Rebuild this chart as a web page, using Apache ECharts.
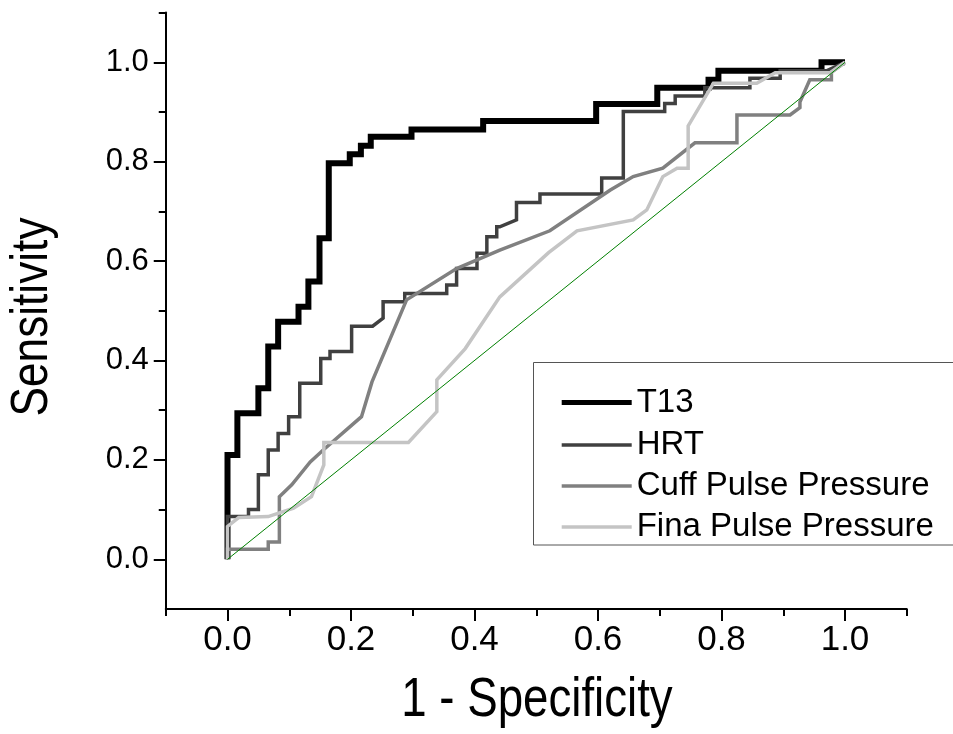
<!DOCTYPE html>
<html>
<head>
<meta charset="utf-8">
<script src="https://cdn.jsdelivr.net/npm/echarts@6/dist/echarts.min.js"></script>
<style>
html,body{margin:0;padding:0;background:#fff;}
#chart{width:953px;height:734px;}
</style>
</head>
<body>
<div id="chart"></div>
<script>
// ---- data ----
const seriesNames = ['T13', 'HRT', 'Cuff Pulse Pressure', 'Fina Pulse Pressure'];

const t13 = [[0,0],[0,0.21],[0.016,0.21],[0.016,0.294],[0.05,0.294],[0.05,0.344],[0.066,0.344],[0.066,0.428],
  [0.082,0.428],[0.082,0.478],[0.115,0.478],[0.115,0.508],[0.131,0.508],[0.131,0.559],[0.149,0.559],[0.149,0.646],
  [0.164,0.646],[0.164,0.797],[0.198,0.797],[0.198,0.815],[0.216,0.815],[0.216,0.832],[0.232,0.832],[0.232,0.85],
  [0.298,0.85],[0.298,0.865],[0.414,0.865],[0.414,0.882],[0.597,0.882],[0.597,0.916],[0.696,0.916],[0.696,0.949],
  [0.779,0.949],[0.779,0.965],[0.795,0.965],[0.795,0.983],[0.962,0.983],[0.962,1.0],[1.0,1.0]];

const hrt = [[0,0],[0,0.086],[0.034,0.086],[0.034,0.1],[0.05,0.1],[0.05,0.17],[0.066,0.17],[0.066,0.22],
  [0.082,0.22],[0.082,0.253],[0.099,0.253],[0.099,0.287],[0.117,0.287],[0.117,0.354],[0.151,0.354],[0.151,0.404],
  [0.166,0.404],[0.166,0.418],[0.201,0.418],[0.201,0.469],[0.235,0.469],[0.252,0.485],[0.252,0.518],[0.287,0.518],
  [0.287,0.535],[0.355,0.535],[0.355,0.552],[0.371,0.552],[0.371,0.585],[0.404,0.585],[0.404,0.616],[0.42,0.616],
  [0.42,0.649],[0.436,0.649],[0.436,0.669],[0.441,0.669],[0.468,0.683],[0.468,0.718],[0.506,0.718],[0.506,0.735],
  [0.606,0.735],[0.606,0.767],[0.641,0.767],[0.641,0.901],[0.708,0.901],[0.708,0.917],[0.725,0.917],[0.725,0.932],
  [0.773,0.932],[0.773,0.949],[0.846,0.949],[0.846,0.968],[0.895,0.968],[0.895,0.983],[0.97,0.983],[1,1]];

const cuff = [[0,0],[0,0.02],[0.066,0.02],[0.066,0.035],[0.084,0.035],[0.084,0.126],[0.104,0.15],[0.134,0.196],
  [0.155,0.22],[0.217,0.287],[0.234,0.357],[0.29,0.522],[0.371,0.585],[0.441,0.622],[0.522,0.661],[0.62,0.743],
  [0.657,0.77],[0.705,0.787],[0.757,0.838],[0.825,0.838],[0.825,0.894],[0.911,0.894],[0.927,0.909],[0.927,0.92],
  [0.943,0.965],[0.978,0.965],[0.978,0.98],[1,1]];

const fina = [[0,0],[0,0.066],[0.018,0.084],[0.066,0.086],[0.107,0.103],[0.136,0.126],[0.156,0.19],[0.156,0.235],
  [0.293,0.235],[0.339,0.297],[0.339,0.361],[0.385,0.424],[0.441,0.528],[0.52,0.617],[0.566,0.661],[0.657,0.683],
  [0.679,0.703],[0.705,0.77],[0.728,0.787],[0.746,0.787],[0.746,0.872],[0.787,0.958],[0.857,0.958],[0.887,0.979],
  [0.976,0.979],[1,1]];

const reference = [[0,0],[1,1]];

const xMajorTicks = [0, 0.2, 0.4, 0.6, 0.8, 1.0];
const xMinorTicks = [-0.1, 0.1, 0.3, 0.5, 0.7, 0.9, 1.1];
const yMajorTicks = [0, 0.2, 0.4, 0.6, 0.8, 1.0];
const yMinorTicks = [0.1, 0.3, 0.5, 0.7, 0.9, 1.1];

const xTitle = '1 - Specificity';
const yTitle = 'Sensitivity';

const seriesData = [t13, hrt, cuff, fina];
const seriesColors = ['#000000', '#404040', '#808080', '#c4c4c4'];
const seriesWidths = [6, 3.5, 3.5, 3.5];

// ---- chart ----
const FONT = 'Liberation Sans, Arial, sans-serif';
const chart = echarts.init(document.getElementById('chart'), null, {renderer: 'canvas'});

const fmt = v => Number(v).toFixed(1);

const baseAxis = {
  type: 'value', min: -0.1, max: 1.1,
  splitLine: {show: false}
};

const legendText = {fontSize: 33, fontFamily: FONT, color: '#000'};

const option = {
  backgroundColor: '#ffffff',
  animation: false,
  grid: {left: 165.75, top: 12.6, right: 46.25, bottom: 125, outerBoundsMode: 'none', containLabel: false},
  xAxis: [
    Object.assign({}, baseAxis, {
      position: 'bottom',
      axisLine: {show: true, onZero: false, lineStyle: {color: '#000', width: 2}},
      axisTick: {show: true, customValues: xMajorTicks, length: 12, lineStyle: {color: '#000', width: 2}},
      axisLabel: {customValues: xMajorTicks, formatter: fmt, fontSize: 35, fontFamily: FONT, color: '#000', margin: 14}
    }),
    Object.assign({}, baseAxis, {
      position: 'bottom',
      axisLine: {show: false, onZero: false},
      axisTick: {show: true, customValues: xMinorTicks, length: 7, lineStyle: {color: '#000', width: 2}},
      axisLabel: {show: false}
    })
  ],
  yAxis: [
    Object.assign({}, baseAxis, {
      position: 'left',
      axisLine: {show: true, onZero: false, lineStyle: {color: '#000', width: 2}},
      axisTick: {show: true, customValues: yMajorTicks, length: 12, lineStyle: {color: '#000', width: 2}},
      axisLabel: {customValues: yMajorTicks, formatter: fmt, fontSize: 31, fontFamily: FONT, color: '#000', margin: 17}
    }),
    Object.assign({}, baseAxis, {
      position: 'left',
      axisLine: {show: false, onZero: false},
      axisTick: {show: true, customValues: yMinorTicks, length: 7, lineStyle: {color: '#000', width: 2}},
      axisLabel: {show: false}
    })
  ],
  legend: [{
    data: [seriesNames[0]],
    orient: 'vertical', left: 561.7, top: 386.1, padding: 0,
    icon: 'rect', itemWidth: 70, itemHeight: 5, itemGap: 8.1,
    textStyle: legendText, selectedMode: false
  }, {
    data: seriesNames.slice(1),
    orient: 'vertical', left: 561.7, top: 428.4, padding: 0,
    icon: 'rect', itemWidth: 70, itemHeight: 3.5, itemGap: 8.1,
    textStyle: legendText, selectedMode: false
  }],
  graphic: [{
    type: 'rect', z: -1,
    shape: {x: 533.5, y: 362.5, width: 440, height: 182.5},
    style: {fill: '#fff', stroke: '#555', lineWidth: 1}
  }, {
    type: 'text', x: 537, y: 701, scaleX: 0.815,
    style: {text: xTitle, font: '56px Liberation Sans, Arial, sans-serif', fill: '#000', textAlign: 'center', textVerticalAlign: 'middle'}
  }, {
    type: 'text', x: 33, y: 317, rotation: Math.PI / 2, scaleX: 0.85,
    style: {text: yTitle, font: '52px Liberation Sans, Arial, sans-serif', fill: '#000', textAlign: 'center', textVerticalAlign: 'middle'}
  }],
  series: seriesNames.map((name, i) => ({
    name: name, type: 'line', data: seriesData[i],
    xAxisIndex: 0, yAxisIndex: 0,
    symbol: 'none', showSymbol: false,
    z: 2 + i,
    lineStyle: {color: seriesColors[i], width: seriesWidths[i], join: 'miter', cap: 'butt'},
    itemStyle: {color: seriesColors[i]}
  })).concat([{
    name: 'reference', type: 'line', data: reference,
    xAxisIndex: 0, yAxisIndex: 0, symbol: 'none', z: 10,
    lineStyle: {color: '#008000', width: 1}
  }])
};
chart.setOption(option);
</script>
</body>
</html>
